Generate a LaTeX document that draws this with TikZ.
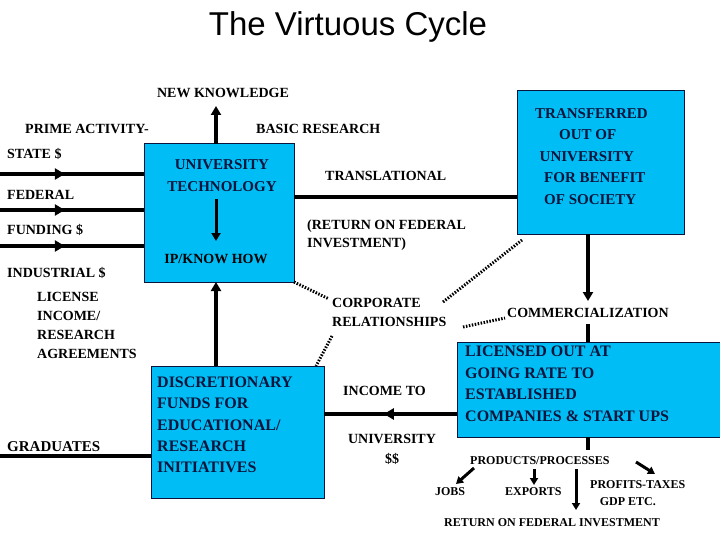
\documentclass[tikz,border=0pt]{standalone}
\usepackage{fontspec}
\setmainfont{Liberation Serif}
\newfontfamily\titlefont{Liberation Sans}
\usetikzlibrary{arrows.meta,decorations.markings}
\definecolor{boxcyan}{RGB}{0,190,245}
\definecolor{navy}{RGB}{10,20,60}
\begin{document}
\begin{tikzpicture}[x=1pt,y=-1pt,
  lbl/.style={font=\fontsize{14}{18}\selectfont\bfseries,inner sep=0pt,align=left},
  sml/.style={font=\fontsize{12}{14}\selectfont\bfseries,inner sep=0pt,align=left},
  cbox/.style={draw=navy,line width=1pt,fill=boxcyan},
  thick line/.style={line width=3.5pt},
  arr/.style={thick line,-{Triangle[length=9pt,width=10pt]}},
  midarr/.style={thick line,postaction={decorate},decoration={markings,mark=at position #1 with {\arrow{Triangle[length=10pt,width=11pt]}}}},
  dots/.style={line width=3pt,dash pattern=on 1.5pt off 1.5pt}]
\useasboundingbox (0,0) rectangle (720,540);
\node[font=\titlefont\fontsize{33}{36}\selectfont] (title) at (348,27) {The Virtuous Cycle};
% boxes
\draw[cbox] (144,144) rectangle (294,282);
\coordinate (ubt) at (216,144); \coordinate (ubb) at (216,282);
\coordinate (ubl1) at (144,174); \coordinate (ubl2) at (144,210); \coordinate (ubl3) at (144,246);
\coordinate (ubr) at (294,197); \coordinate (ubbr) at (294,282);
\draw[cbox] (517,91) rectangle (684,234);
\coordinate (tbl) at (517,197); \coordinate (tbb) at (588,234); \coordinate (tbbl) at (522,240);
\draw[cbox] (151,366) rectangle (324,498);
\coordinate (dbt) at (216,366); \coordinate (dbl) at (151,456); \coordinate (dbr) at (324,414); \coordinate (dbtr) at (316,366);
\draw[cbox] (457,342) rectangle (722,437);
\coordinate (lbl) at (457,414); \coordinate (lbt) at (588,342); \coordinate (lbb) at (588,437);
% texts
\node[lbl] (nk) at (223,93) {NEW KNOWLEDGE};
\node[lbl,anchor=west] (pa) at (25,129) {PRIME ACTIVITY-};
\node[lbl,anchor=west] (br) at (256,129) {BASIC RESEARCH};
\node[lbl,anchor=west] (st) at (7,154) {STATE \$};
\node[lbl,anchor=west] (fe) at (7,195) {FEDERAL};
\node[lbl,anchor=west] (fu) at (7,230) {FUNDING \$};
\node[lbl,anchor=west] (in) at (7,273) {INDUSTRIAL \$};
\node[lbl,text=navy,font=\fontsize{15}{22}\selectfont\bfseries,align=center] (ut) at (222,176) {UNIVERSITY\\TECHNOLOGY};
\node[lbl] (ip) at (216,259) {IP/KNOW HOW};
\node[lbl,anchor=west] (tr) at (325,176) {TRANSLATIONAL};
\node[lbl,anchor=west,font=\fontsize{14}{18}\selectfont\bfseries] (rf) at (307,235) {(RETURN ON FEDERAL\\INVESTMENT)};
\node[lbl,text=navy,font=\fontsize{15}{21.5}\selectfont\bfseries,anchor=north west] (tt) at (535,108) {TRANSFERRED\\\hspace*{1.6em}OUT OF\\\hspace*{0.3em}UNIVERSITY\\\hspace*{0.6em}FOR BENEFIT\\\hspace*{0.6em}OF SOCIETY};
\node[lbl,anchor=north west,font=\fontsize{14}{19}\selectfont\bfseries] (li) at (37,292) {LICENSE\\INCOME/\\RESEARCH\\AGREEMENTS};
\node[lbl,anchor=north west,font=\fontsize{14}{19}\selectfont\bfseries] (co) at (332,298) {CORPORATE\\RELATIONSHIPS};
\node[lbl,anchor=west] (cm) at (507,313) {COMMERCIALIZATION};
\node[lbl,text=navy,anchor=north west,font=\fontsize{16}{21.5}\selectfont\bfseries] (lt) at (465,346) {LICENSED OUT AT\\GOING RATE TO\\ESTABLISHED\\COMPANIES \& START UPS};
\node[lbl,text=navy,anchor=north west,font=\fontsize{16}{21.2}\selectfont\bfseries] (dt) at (157,377) {DISCRETIONARY\\FUNDS FOR\\EDUCATIONAL/\\RESEARCH\\INITIATIVES};
\node[lbl,anchor=west] (it) at (343,391) {INCOME TO};
\node[lbl,align=center,font=\fontsize{14}{20}\selectfont\bfseries] (us) at (392,449) {UNIVERSITY\\\$\$};
\node[lbl,anchor=west,font=\fontsize{15}{18}\selectfont\bfseries] (gr) at (7,447) {GRADUATES};
\node[sml,anchor=west] (pp) at (470,461) {PRODUCTS/PROCESSES};
\node[sml] (jb) at (450,492) {JOBS};
\node[sml,anchor=west] (ex) at (505,492) {EXPORTS};
\node[sml,anchor=north west,font=\fontsize{12}{17}\selectfont\bfseries] (pt) at (590,480) {PROFITS-TAXES\\\hspace*{0.8em}GDP ETC.};
\node[sml] (rt) at (552,523) {RETURN ON FEDERAL INVESTMENT};
% connectors
\coordinate (l1) at (0,174); \coordinate (l2) at (0,210); \coordinate (l3) at (0,246); \coordinate (l4) at (0,456);
\draw[midarr=0.45] (l1) -- (ubl1);
\draw[midarr=0.45] (l2) -- (ubl2);
\draw[midarr=0.45] (l3) -- (ubl3);
\draw[thick line] (l4) -- (dbl);
\coordinate (nka) at (216,106);
\draw[arr] (ubt) -- (nka);
\coordinate (d1) at (216,199); \coordinate (d2) at (216,241);
\draw[line width=3pt,-{Triangle[length=8pt,width=9pt]}] (d1) -- (d2);
\draw[arr] (dbt) -- (ubb);
\draw[thick line] (ubr) -- (tbl);
\coordinate (cma) at (588,301);
\draw[arr] (tbb) -- (cma);
\coordinate (cmb) at (588,324);
\draw[thick line] (cmb) -- (lbt);
\draw[midarr=0.55] (lbl) -- (dbr);
\coordinate (pb) at (588,450);
\draw[thick line] (lbb) -- (pb);
% dotted
\coordinate (c1) at (329,299); \coordinate (c2) at (443,302); \coordinate (c3) at (463,327);
\coordinate (c4) at (505,318); \coordinate (c5) at (332,336);
\draw[dots] (ubbr) -- (c1);
\draw[dots] (c2) -- (tbbl);
\draw[dots] (c3) -- (c4);
\draw[dots] (c5) -- (dbtr);
% product arrows
\coordinate (j1) at (474,468); \coordinate (j2) at (456,484);
\draw[line width=3pt,-{Triangle[length=7pt,width=8pt]}] (j1) -- (j2);
\coordinate (e1) at (534,469); \coordinate (e2) at (534,485);
\draw[line width=3pt,-{Triangle[length=7pt,width=8pt]}] (e1) -- (e2);
\coordinate (r1) at (576,469); \coordinate (r2) at (576,510);
\draw[line width=3pt,-{Triangle[length=7pt,width=8pt]}] (r1) -- (r2);
\coordinate (p1) at (636,462); \coordinate (p2) at (655,474);
\draw[line width=3pt,-{Triangle[length=7pt,width=8pt]}] (p1) -- (p2);
\end{tikzpicture}
\end{document}
